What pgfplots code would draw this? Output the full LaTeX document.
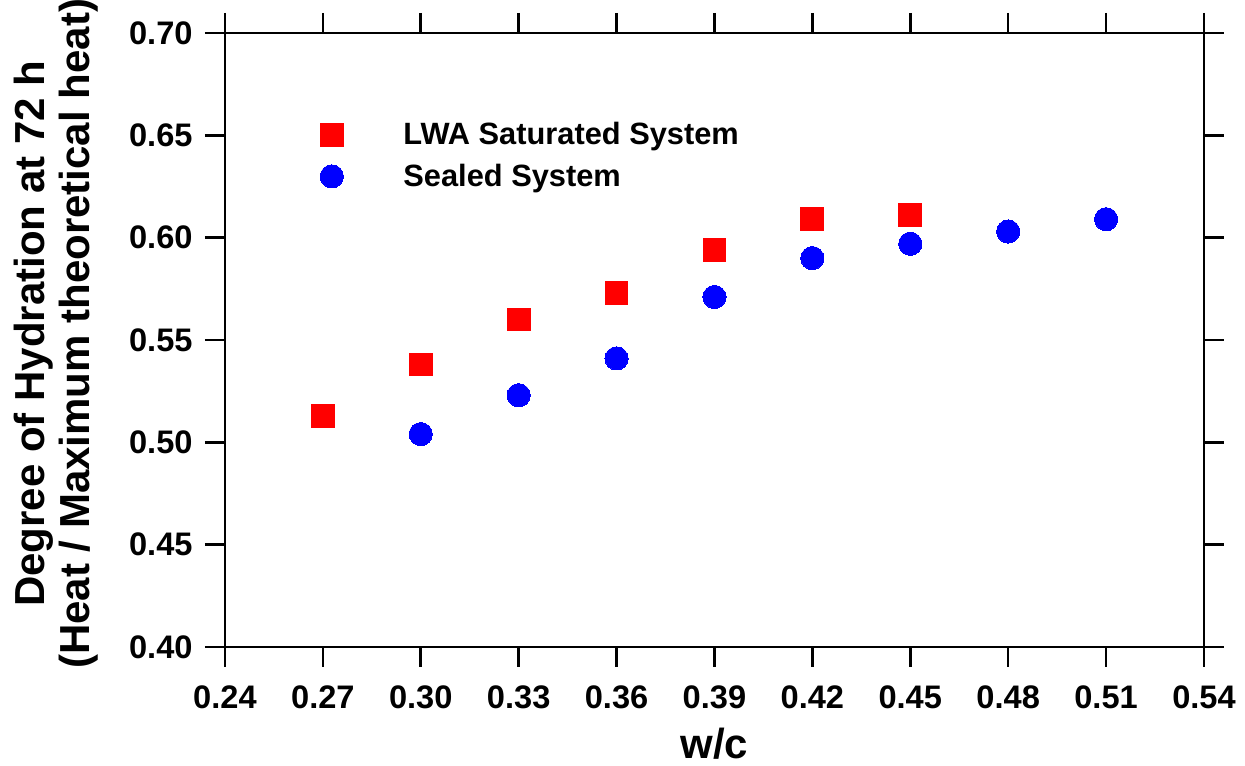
\documentclass[border=0pt]{standalone}
\usepackage{fontspec}
\setmainfont{Liberation Sans}
\usepackage{pgfplots}
\pgfplotsset{compat=1.18}
\begin{document}
\begin{tikzpicture}
\begin{axis}[
  scale only axis,
  width=489.5pt, height=307pt,
  xmin=0.24, xmax=0.54, ymin=0.40, ymax=0.70,
  xtick={0.24,0.27,0.30,0.33,0.36,0.39,0.42,0.45,0.48,0.51,0.54},
  ytick={0.40,0.45,0.50,0.55,0.60,0.65,0.70},
  tick align=outside,
  xticklabel pos=lower, yticklabel pos=left,
  major tick length=10pt,
  axis line style={line width=1.3pt},
  tick style={line width=1.3pt, black},
  /pgf/number format/assume math mode=true,
  /pgf/number format/.cd, fixed, fixed zerofill, precision=2, /pgfplots/.cd,
  tick label style={font=\fontsize{16.3}{16.3}\selectfont\bfseries},
  xticklabel style={inner sep=0pt, yshift=-9pt},
  yticklabel style={inner sep=0pt, xshift=-6pt},
  xlabel={w/c},
  xlabel style={font=\fontsize{21}{22.5}\selectfont\bfseries, at={(axis description cs:0.5,-0.181)}, anchor=base, inner sep=0pt},
  ylabel={Degree of Hydration at 72 h\\(Heat / Maximum theoretical heat)},
  ylabel style={font=\fontsize{21}{22.5}\selectfont\bfseries, align=center, at={(axis description cs:-0.1287,0.51)}, anchor=south, inner sep=0pt},
  legend style={draw=none, fill=none, inner sep=0pt, at={(axis description cs:0.0969,0.855)}, anchor=north west,
    font=\fontsize{15.4}{15.4}\selectfont\bfseries, row sep=8pt,
    nodes={inner sep=0pt},
    /tikz/every odd column/.append style={column sep=30pt}},
  legend cell align=left,
]
\addplot[red, only marks, mark=square*, mark size=5.7pt, mark options={fill=red, draw=red, line width=0pt}] coordinates {
  (0.27,0.513) (0.30,0.538) (0.33,0.560) (0.36,0.573) (0.39,0.594) (0.42,0.609) (0.45,0.611)
};
\addlegendentry{LWA Saturated System}
\addplot[blue, only marks, mark=*, mark size=5.8pt, mark options={fill=blue, draw=blue, line width=0pt}] coordinates {
  (0.30,0.504) (0.33,0.523) (0.36,0.541) (0.39,0.571) (0.42,0.590) (0.45,0.597) (0.48,0.603) (0.51,0.609)
};
\addlegendentry{Sealed System}
\coordinate (bbsw) at (rel axis cs:-0.2298,-0.1938);
\coordinate (bbne) at (rel axis cs:1.0419,1.0537);
\end{axis}
\pgfresetboundingbox
\path (bbsw) rectangle (bbne);
\end{tikzpicture}
\end{document}
